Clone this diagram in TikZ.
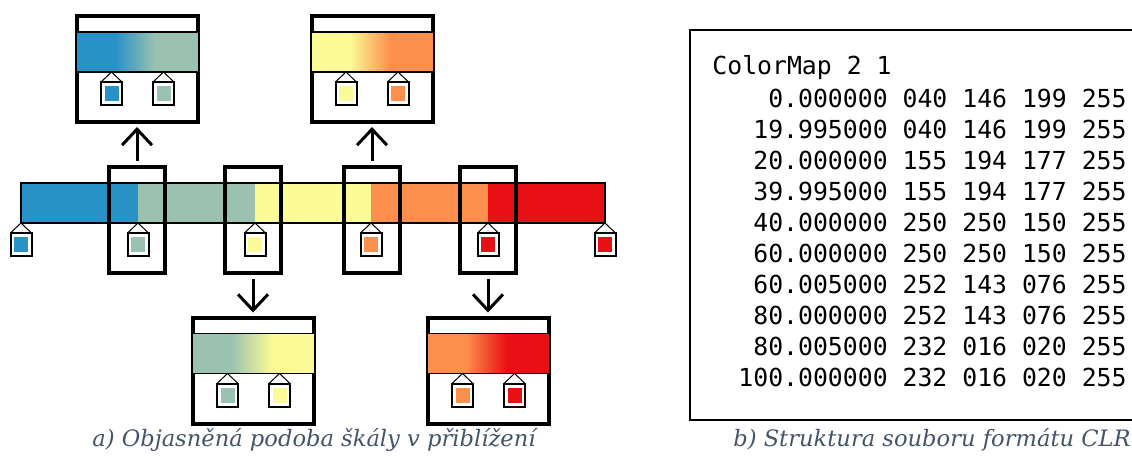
\documentclass[tikz,border=0pt]{standalone}
\usepackage{fontspec}
\usepackage{tikz}
\usetikzlibrary{calc,arrows.meta}
\newfontfamily\clrfont{DejaVu Sans Mono}
\newfontfamily\capfont{DejaVu Serif}
\definecolor{cblue}{RGB}{40,146,199}
\definecolor{cgreen}{RGB}{155,194,177}
\definecolor{cyellow}{RGB}{250,250,150}
\definecolor{corange}{RGB}{252,143,76}
\definecolor{cred}{RGB}{232,16,20}
\definecolor{captext}{RGB}{68,84,106}

\tikzset{
  colpin/.pic={
    \draw[line width=0.5pt] (-10.5,10) -- (0,0) -- (10.5,10);
    \draw[line width=1pt,fill=white] (-10.5,10) rectangle (10.5,33);
    \fill[#1] (-7,14) rectangle (7,29);
  }
}

% #1 view node, #2 left colour, #3 right colour
\newcommand{\lensview}[3]{%
  \fill[#2] ($(#1.north west)+(2,18)$) rectangle ($(#1.north)+(-22,58)$);
  \shade[left color=#2,right color=#3] ($(#1.north)+(-22.3,18)$) rectangle ($(#1.north)+(18.3,58)$);
  \fill[#3] ($(#1.north)+(18,18)$) rectangle ($(#1.north east)+(-2,58)$);
  \draw[line width=0.8pt] ($(#1.north west)+(0,18)$) -- ($(#1.north east)+(0,18)$)
    ($(#1.north west)+(0,58)$) -- ($(#1.north east)+(0,58)$);
  \pic at ($(#1.north)+(-26,58)$) {colpin=#2};
  \pic at ($(#1.north)+(26,58)$) {colpin=#3};
}

\begin{document}
\begin{tikzpicture}[x=0.5pt,y=-0.5pt,
  lens/.style={draw,line width=2pt,minimum width=28pt,minimum height=53pt,inner sep=0pt},
  zoomview/.style={draw,line width=2pt,minimum width=60.5pt,minimum height=53pt,inner sep=0pt},
  lensarrow/.style={line width=1.5pt,-{Straight Barb[length=8pt,width=15pt]},shorten <=2pt,shorten >=1.5pt},
  clrline/.style={font=\clrfont\fontsize{12.4}{15}\selectfont,inner sep=0pt},
  figcap/.style={font=\capfont\itshape\fontsize{11.3}{13}\selectfont,text=captext,inner sep=0pt}]
  \useasboundingbox (0,0) rectangle (1132,457);

  % colour scale
  \fill[cblue] (21,183) rectangle (138,223);
  \fill[cgreen] (138,183) rectangle (255,223);
  \fill[cyellow] (255,183) rectangle (371,223);
  \fill[corange] (371,183) rectangle (488,223);
  \fill[cred] (488,183) rectangle (605,223);
  \draw[line width=0.8pt] (21,183) rectangle (605,223);
  \pic at (21,223) {colpin=cblue};
  \pic at (138,223) {colpin=cgreen};
  \pic at (255,223) {colpin=cyellow};
  \pic at (371,223) {colpin=corange};
  \pic at (488,223) {colpin=cred};
  \pic at (605,223) {colpin=cred};

  % lenses on the scale
  \node[lens] (w1) at (137,220) {};
  \node[lens] (w2) at (253,220) {};
  \node[lens] (w3) at (372,220) {};
  \node[lens] (w4) at (488,220) {};

  % zoomed views
  \node[zoomview] (z1) at (137.5,69) {};
  \node[zoomview] (z2) at (372,69) {};
  \node[zoomview] (z3) at (253.5,370.5) {};
  \node[zoomview] (z4) at (488.5,370.5) {};
  \lensview{z1}{cblue}{cgreen}
  \lensview{z2}{cyellow}{corange}
  \lensview{z3}{cgreen}{cyellow}
  \lensview{z4}{corange}{cred}

  \draw[lensarrow] (w1.north) -- (w1.north |- z1.south);
  \draw[lensarrow] (w3.north) -- (w3.north |- z2.south);
  \draw[lensarrow] (w2.south) -- (w2.south |- z3.north);
  \draw[lensarrow] (w4.south) -- (w4.south |- z4.north);

  % CLR file
  \node[draw,line width=1pt,anchor=north west,minimum width=230.5pt,minimum height=195pt,inner sep=0pt] (clrbox) at (689,29) {};
  \node[clrline,anchor=base west] (clrhead) at (712,74) {ColorMap 2 1};
  \foreach \v/\c [count=\i] in {0.000000/040 146 199 255,19.995000/040 146 199 255,
      20.000000/155 194 177 255,39.995000/155 194 177 255,40.000000/250 250 150 255,
      60.000000/250 250 150 255,60.005000/252 143 076 255,80.000000/252 143 076 255,
      80.005000/232 016 020 255,100.000000/232 016 020 255}
    \node[clrline,anchor=base east] (clrrow\i) at (1127,{107+31*(\i-1)}) {\v{} \c};

  \node[figcap] (capa) at (314,440) {a) Objasněná podoba škály v přiblížení};
  \node[figcap] (capb) at (932,440) {b) Struktura souboru formátu CLR};
\end{tikzpicture}
\end{document}
